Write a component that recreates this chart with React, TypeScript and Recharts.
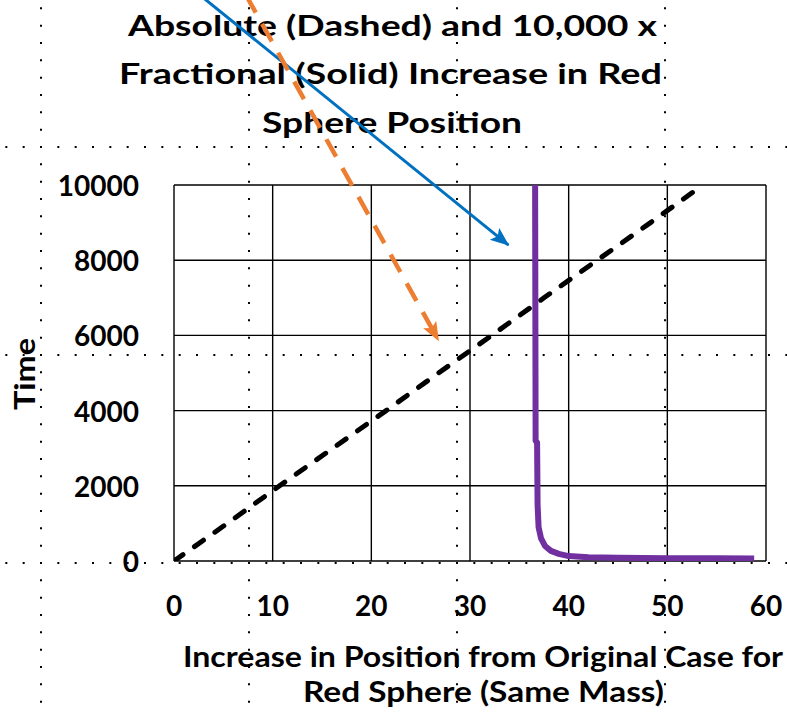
import { LineChart, Line, XAxis, YAxis, CartesianGrid, ReferenceLine } from "recharts";

// absolute increase (dashed, black)
const dashedX = [0, 5.4, 10.7, 16.1, 21.5, 26.8, 32.2, 37.5, 42.9, 48.3, 53.6];
const dashedTime = [0, 1000, 2000, 3000, 4000, 5000, 6000, 7000, 8000, 9000, 10000];

// 10,000 x fractional increase (solid, purple)
const solidX = [36.6, 36.65, 36.8, 36.85, 36.95, 37.2, 37.6, 38.2, 39.0, 40.0, 42.0, 45.0, 50.0, 55.0, 58.8];
const solidTime = [10000, 3200, 3150, 1500, 900, 600, 400, 270, 190, 130, 100, 85, 75, 70, 65];

const xTicks = [0, 10, 20, 30, 40, 50, 60];
const yTicks = [0, 2000, 4000, 6000, 8000, 10000];

// annotation arrows, in data units (they start above the plot)
const blueArrow = [
  { x: 2.4, y: 15100 },
  { x: 33.9, y: 8400 },
];
const orangeArrow = [
  { x: 7.3, y: 15050 },
  { x: 26.8, y: 5870 },
];

const titleLines = ["Absolute (Dashed) and 10,000 x", "Fractional (Solid) Increase in Red", "Sphere Position"];
const xTitleLines = ["Increase in Position from Original Case for", "Red Sphere (Same Mass)"];

const dashedData = dashedX.map((x, i) => ({ x, y: dashedTime[i] }));
const solidData = solidX.map((x, i) => ({ x, y: solidTime[i] }));

const FONT = "Lato, 'Open Sans', sans-serif";

function arrowShape(id: string, color: string, width: number, dash?: string) {
  return (p: any) => (
    <g>
      <defs>
        <marker
          id={id}
          markerUnits="userSpaceOnUse"
          markerWidth={19}
          markerHeight={17}
          refX={18}
          refY={8.5}
          orient="auto"
        >
          <path d="M0,1 L19,8.5 L0,16 L4,8.5 z" fill={color} />
        </marker>
      </defs>
      <line
        x1={p.x1}
        y1={p.y1}
        x2={p.x2}
        y2={p.y2}
        stroke={color}
        strokeWidth={width}
        strokeDasharray={dash}
        markerEnd={`url(#${id})`}
      />
    </g>
  );
}

// the worksheet cell grid behind the chart
const sheetCols = [41, 249, 457, 665];
const sheetRows = [147, 355, 563];

function SheetBackground() {
  const step = 208 / 12;
  return (
    <svg width={787} height={716} style={{ position: "absolute", left: 0, top: 0 }}>
      {sheetCols.map((c) => (
        <line
          key={"c" + c}
          x1={c}
          x2={c}
          y1={-9 - 1}
          y2={716}
          stroke="#000"
          strokeWidth={2}
          strokeDasharray={`2 ${step - 2}`}
        />
      ))}
      {sheetRows.map((r) => (
        <line
          key={"r" + r}
          y1={r}
          y2={r}
          x1={41 - 3 * step - 1}
          x2={787}
          stroke="#000"
          strokeWidth={2}
          strokeDasharray={`2 ${step - 2}`}
        />
      ))}
      <g fontFamily={FONT} fontWeight={700} fill="#000">
        <text x={128} y={36} fontSize={29} textLength={529} lengthAdjust="spacingAndGlyphs">
          {titleLines[0]}
        </text>
        <text x={119} y={84} fontSize={29} textLength={543} lengthAdjust="spacingAndGlyphs">
          {titleLines[1]}
        </text>
        <text x={262} y={133} fontSize={29} textLength={260} lengthAdjust="spacingAndGlyphs">
          {titleLines[2]}
        </text>
        <text x={183} y={667} fontSize={29} textLength={600} lengthAdjust="spacingAndGlyphs">
          {xTitleLines[0]}
        </text>
        <text x={303} y={702} fontSize={29} textLength={361} lengthAdjust="spacingAndGlyphs">
          {xTitleLines[1]}
        </text>
        <text
          x={0}
          y={0}
          fontSize={29}
          textAnchor="middle"
          textLength={72}
          lengthAdjust="spacingAndGlyphs"
          transform="translate(35,374) rotate(-90)"
        >
          Time
        </text>
      </g>
    </svg>
  );
}

export default function App() {
  return (
    <div
      style={{
        position: "absolute",
        left: 0,
        top: 0,
        width: 787,
        height: 716,
        background: "#fff",
        overflow: "hidden",
        fontFamily: FONT,
      }}
    >
      <SheetBackground />
      <div style={{ position: "absolute", left: 0, top: 0 }}>
        <LineChart width={787} height={716} margin={{ top: 185, right: 21, left: 0, bottom: 0 }}>
          <CartesianGrid stroke="#000" strokeWidth={1.4} />
          <XAxis
            type="number"
            dataKey="x"
            domain={[0, 60]}
            ticks={xTicks}
            allowDataOverflow
            height={155}
            axisLine={false}
            tickLine={false}
            tickSize={0}
            tickMargin={0}
            tick={(p: any) => (
              <text
                x={p.x}
                y={p.y}
                dy={44}
                textAnchor="middle"
                dominantBaseline="central"
                fontSize={28}
                fontWeight={700}
                fontFamily={FONT}
                fill="#000"
              >
                {p.payload.value}
              </text>
            )}
          />
          <YAxis
            type="number"
            domain={[0, 10000]}
            ticks={yTicks}
            allowDataOverflow
            width={174}
            axisLine={false}
            tickLine={false}
            tickSize={0}
            tickMargin={0}
            tick={(p: any) => (
              <text
                x={p.x}
                y={p.y}
                dx={-35}
                textAnchor="end"
                dominantBaseline="central"
                fontSize={28}
                fontWeight={700}
                fontFamily={FONT}
                fill="#000"
              >
                {p.payload.value}
              </text>
            )}
          />
          <Line
            data={dashedData}
            dataKey="y"
            type="linear"
            stroke="#000"
            strokeWidth={5}
            strokeDasharray="11 14"
            strokeLinecap="round"
            dot={false}
            isAnimationActive={false}
          />
          <Line
            data={solidData}
            dataKey="y"
            type="linear"
            stroke="#7030A0"
            strokeWidth={6}
            strokeLinejoin="round"
            dot={false}
            isAnimationActive={false}
          />
          <ReferenceLine
            segment={blueArrow}
            ifOverflow="visible"
            shape={arrowShape("blueHead", "#0070C0", 3)}
          />
          <ReferenceLine
            segment={orangeArrow}
            ifOverflow="visible"
            shape={arrowShape("orangeHead", "#ED7D31", 4.5, "20 13")}
          />
        </LineChart>
      </div>
    </div>
  );
}
